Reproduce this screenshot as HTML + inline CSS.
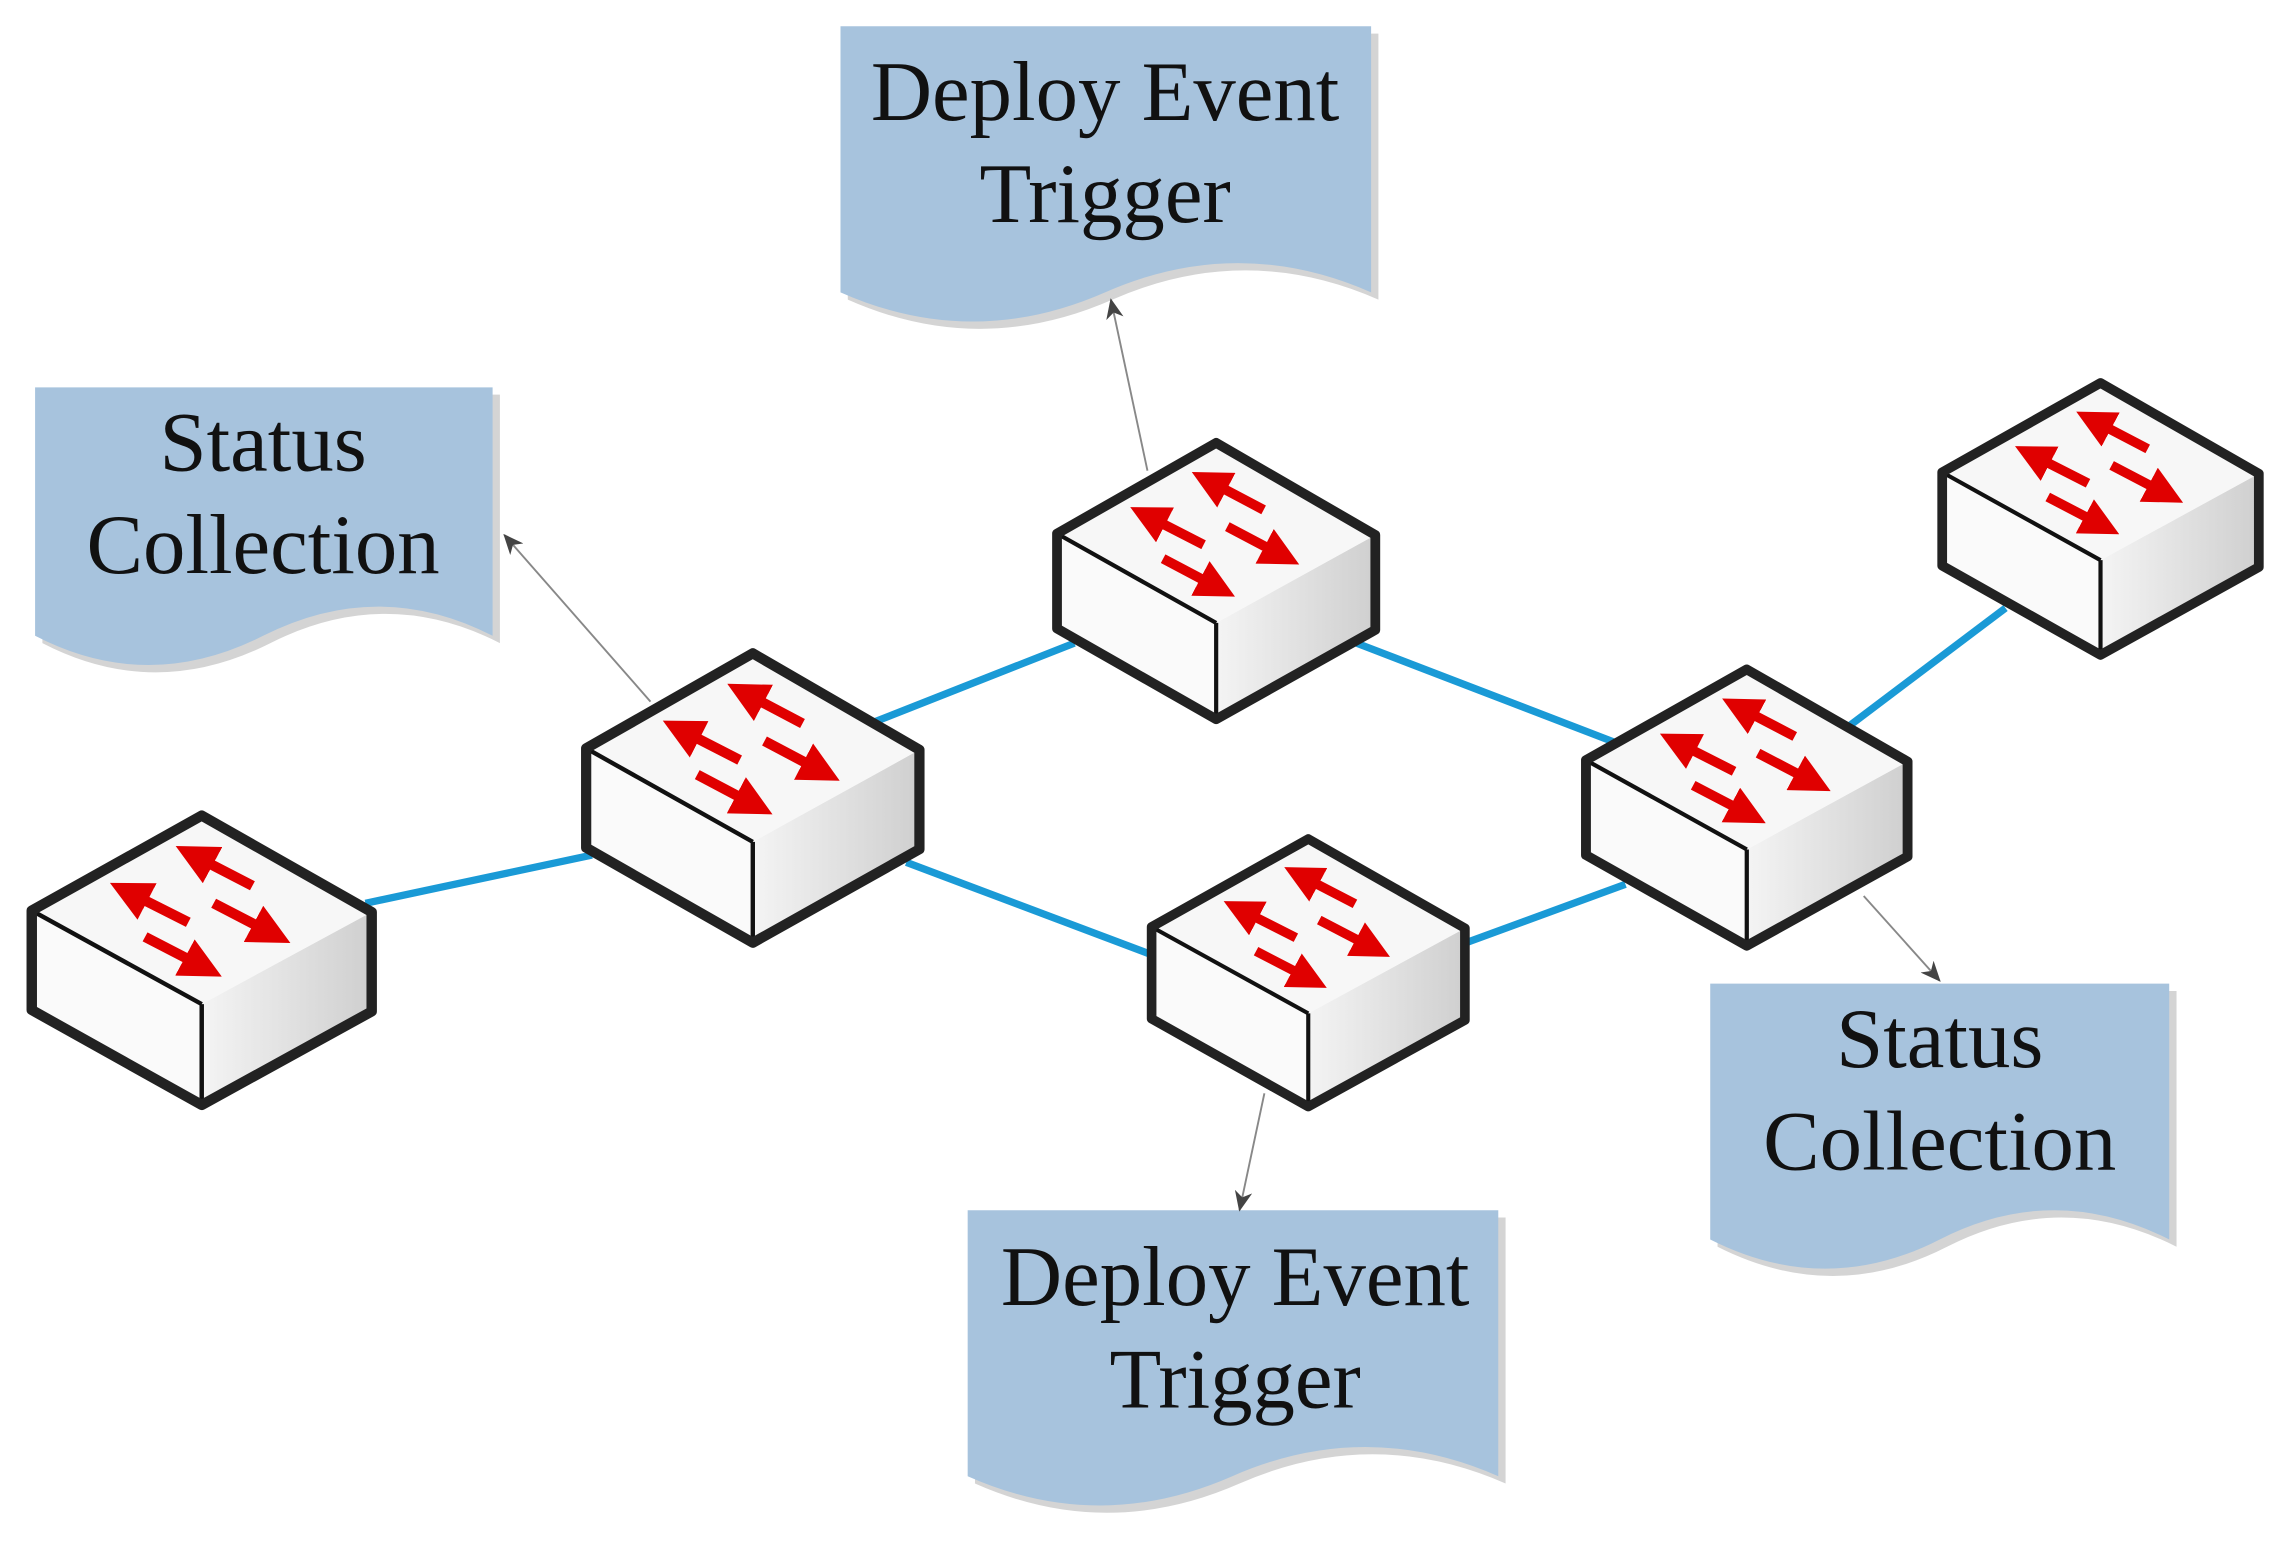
<!DOCTYPE html>
<html><head><meta charset="utf-8"><style>
html,body{margin:0;padding:0;background:#fff;}
svg{display:block;}
text{font-family:"Liberation Serif",serif;font-size:58px;fill:#111;text-anchor:middle;}
</style></head><body>
<svg width="2292" height="1561" viewBox="0 0 1568 1068" preserveAspectRatio="none" xmlns="http://www.w3.org/2000/svg">
<defs>
<marker id="ra" markerWidth="4" markerHeight="4" refX="1.5" refY="2" orient="auto" markerUnits="strokeWidth">
<path d="M0,0 L4,2 L0,4 Z" fill="#e00000"/>
</marker>
<marker id="ga" markerWidth="14" markerHeight="12" refX="13" refY="6" orient="auto" markerUnits="userSpaceOnUse">
<path d="M0,0 L14,6 L0,12 L4,6 Z" fill="#444"/>
</marker>
<linearGradient id="gr" x1="0" y1="0" x2="1" y2="0">
<stop offset="0" stop-color="#f4f4f4"/><stop offset="1" stop-color="#cfcfcf"/>
</linearGradient>
<g id="sw">
<polygon points="-114,65 0,129 0,198 -114,133" fill="#fafafa"/>
<polygon points="0,129 114,66 114,134 0,198" fill="url(#gr)"/>
<polygon points="0,0 114,66 0,129 -114,65" fill="#f7f7f7"/>
<line x1="-114" y1="65" x2="0" y2="129" stroke="#111" stroke-width="3"/>
<line x1="0" y1="129" x2="0" y2="198" stroke="#111" stroke-width="3"/>
<polygon points="0,0 114,66 114,134 0,198 -114,133 -114,65" fill="none" stroke="#222" stroke-width="7" stroke-linejoin="round"/>
<g stroke="#e00000" stroke-width="7" fill="none" marker-end="url(#ra)">
<line x1="34" y1="48" x2="-2" y2="29"/>
<line x1="-9" y1="73" x2="-46" y2="54"/>
<line x1="8" y1="60" x2="44" y2="79"/>
<line x1="-38" y1="83" x2="-2" y2="102"/>
</g>
</g>
</defs>

<g stroke="#1a9ad6" stroke-width="5" fill="none">
<line x1="250" y1="618" x2="405" y2="585"/>
<line x1="598" y1="494" x2="735" y2="440"/>
<line x1="620" y1="590" x2="790" y2="654"/>
<line x1="928" y1="440" x2="1105" y2="508"/>
<line x1="1003" y1="645" x2="1112" y2="605"/>
<line x1="1262" y1="499" x2="1372" y2="416"/>
</g>

<g fill="#d4d4d4">
<path transform="translate(5,5)" d="M575,18 H938 V200 Q847,160 756,200 T575,200 Z"/>
<path transform="translate(5,5)" d="M24,265 H337 V435 Q259,395 180,435 T24,435 Z"/>
<path transform="translate(5,5)" d="M1170,673 H1484 V848 Q1405,808 1327,848 T1170,848 Z"/>
<path transform="translate(5,5)" d="M662,828 H1025 V1010 Q934,970 843,1010 T662,1010 Z"/>
</g>
<g fill="#a7c3dd">
<path d="M575,18 H938 V200 Q847,160 756,200 T575,200 Z"/>
<path d="M24,265 H337 V435 Q259,395 180,435 T24,435 Z"/>
<path d="M1170,673 H1484 V848 Q1405,808 1327,848 T1170,848 Z"/>
<path d="M662,828 H1025 V1010 Q934,970 843,1010 T662,1010 Z"/>
</g>
<text x="756" y="82">Deploy Event</text>
<text x="756" y="152">Trigger</text>
<text x="180" y="322">Status</text>
<text x="180" y="392">Collection</text>
<text x="1327" y="730">Status</text>
<text x="1327" y="800">Collection</text>
<text x="845" y="893">Deploy Event</text>
<text x="845" y="963">Trigger</text>

<g stroke="#888" stroke-width="1.3" fill="none" marker-end="url(#ga)">
<line x1="445" y1="480" x2="345" y2="366"/>
<line x1="785" y1="322" x2="760" y2="205"/>
<line x1="865" y1="748" x2="848" y2="828"/>
<line x1="1275" y1="613" x2="1327" y2="671"/>
</g>

<use href="#sw" transform="translate(138,558) scale(1.02,1.0)"/>
<use href="#sw" transform="translate(515,447)"/>
<use href="#sw" transform="translate(832,303) scale(0.955)"/>
<use href="#sw" transform="translate(895,574) scale(0.94,0.925)"/>
<use href="#sw" transform="translate(1195,458) scale(0.965,0.955)"/>
<use href="#sw" transform="translate(1437,262) scale(0.95,0.94)"/>
</svg>
</body></html>
